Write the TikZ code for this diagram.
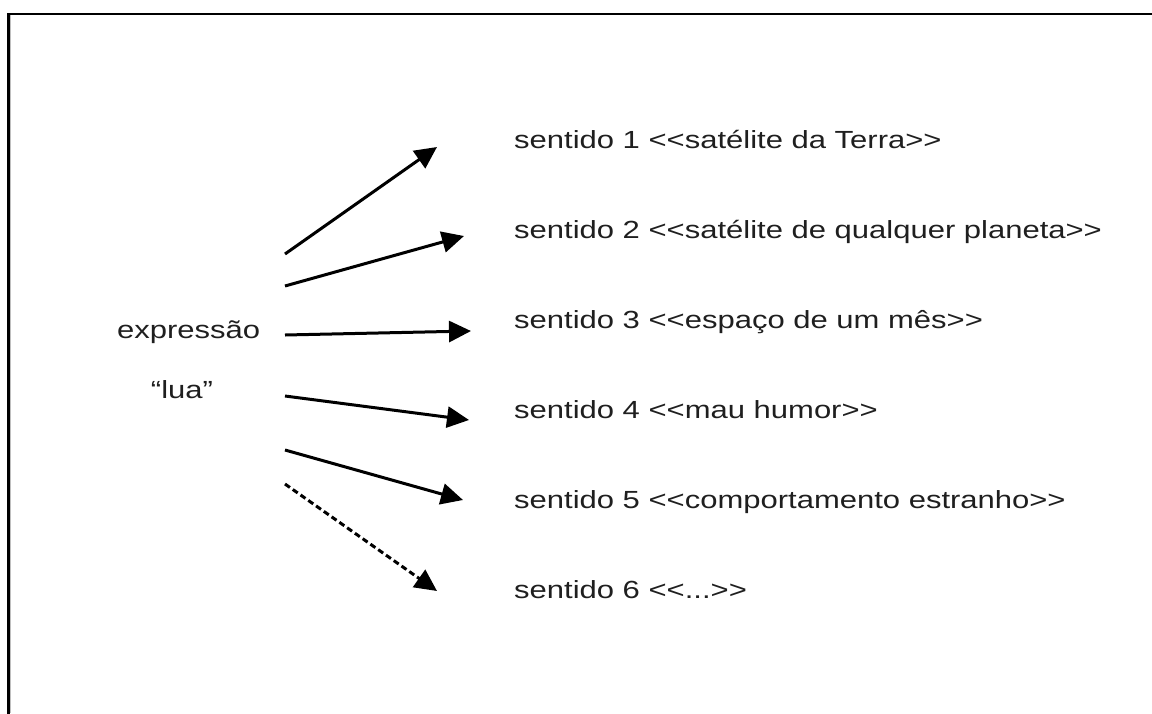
\documentclass[tikz,border=0pt]{standalone}
\usepackage{fontspec}
\setmainfont{Liberation Sans}[FakeStretch=1.25]
\usetikzlibrary{arrows.meta}
\newcommand{\lt}{<{}<}
\newcommand{\gtt}{>{}>}
\begin{document}
\begin{tikzpicture}[x=1pt,y=-1pt,
  lbl/.style={inner sep=0pt,anchor=base west,text=black!88,font=\fontsize{24.8pt}{29pt}\selectfont},
  arr/.style={line width=3pt,-{Triangle[length=22pt,width=21pt]}},
  darr/.style={arr,dash pattern=on 6pt off 3.5pt}]
\useasboundingbox (0,0) rectangle (1152,713);
% frame (only top and left edges are visible)
\draw[gray!50,line width=1.6pt] (10.2,15) -- (10.2,713);
\draw[line width=2.4pt] (8.3,716) -- (8.3,13.8) -- (1156,13.8);
% texts
\node[lbl] (expr) at (117,338) {expressão};
\node[lbl,anchor=base] (lua) at (182,398) {“lua”};
\node[lbl] (s1) at (514,148) {sentido 1 \lt satélite da Terra\gtt};
\node[lbl] (s2) at (514,238) {sentido 2 \lt satélite de qualquer planeta\gtt};
\node[lbl] (s3) at (514,328) {sentido 3 \lt espaço de um mês\gtt};
\node[lbl] (s4) at (514,418) {sentido 4 \lt mau humor\gtt};
\node[lbl] (s5) at (514,508) {sentido 5 \lt comportamento estranho\gtt};
\node[lbl] (s6) at (514,598) {sentido 6 \lt ...\gtt};
% arrow end points
\coordinate (a1) at (285,254); \coordinate (b1) at (437,147);
\coordinate (a2) at (285,286); \coordinate (b2) at (464,236);
\coordinate (a3) at (285,335); \coordinate (b3) at (471,331);
\coordinate (a4) at (285,396); \coordinate (b4) at (469,420);
\coordinate (a5) at (285,450); \coordinate (b5) at (463,500);
\coordinate (a6) at (285,484); \coordinate (b6) at (437,591);
\draw[arr] (a1) -- (b1);
\draw[arr] (a2) -- (b2);
\draw[arr] (a3) -- (b3);
\draw[arr] (a4) -- (b4);
\draw[arr] (a5) -- (b5);
\draw[darr] (a6) -- (b6);
\end{tikzpicture}
\end{document}
